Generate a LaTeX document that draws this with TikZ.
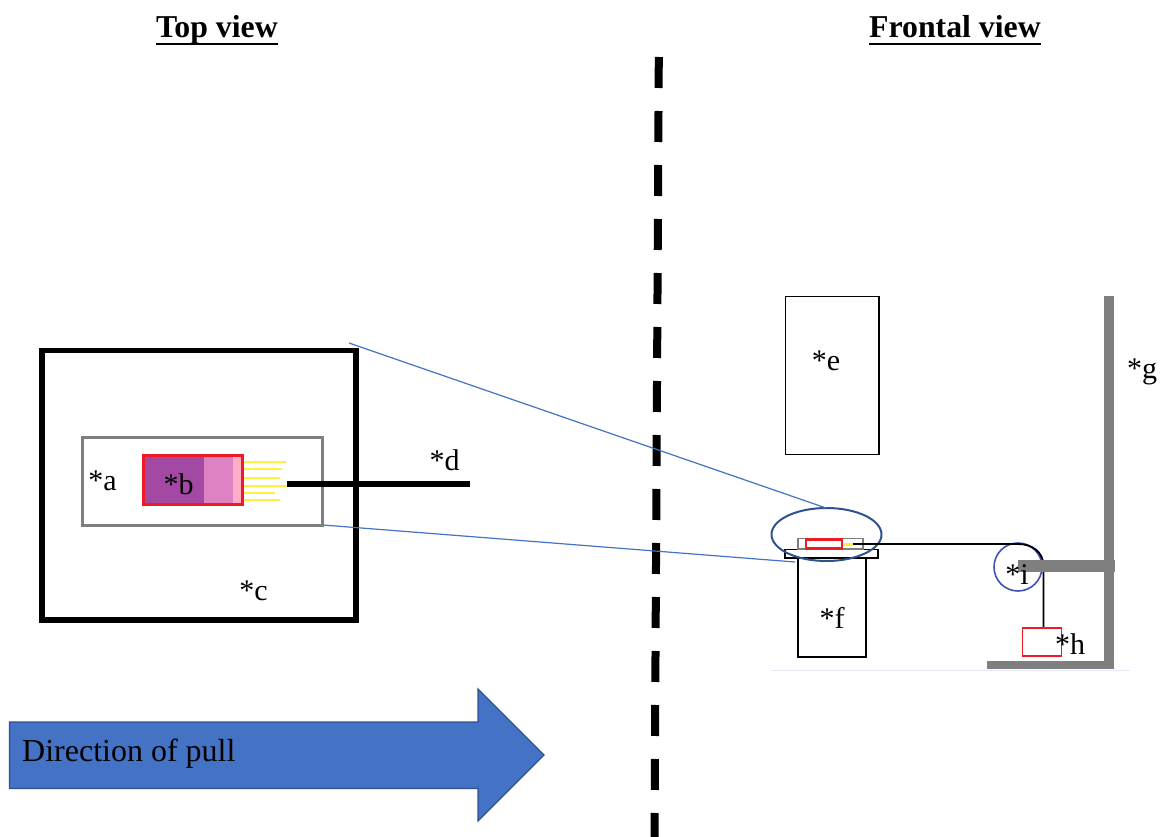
\documentclass[tikz,border=0pt]{standalone}
\usepackage{fontspec}
\setmainfont{Liberation Serif}
\usetikzlibrary{shapes.geometric}
\definecolor{boxgray}{RGB}{127,127,127}
\definecolor{zoomblue}{RGB}{68,114,196}
\definecolor{darkblue}{RGB}{47,82,143}
\definecolor{ringblue}{RGB}{64,80,190}
\definecolor{redb}{RGB}{237,28,36}
\definecolor{purpleA}{RGB}{163,73,164}
\definecolor{purpleB}{RGB}{222,130,196}
\definecolor{purpleC}{RGB}{255,174,201}
\definecolor{fibre}{RGB}{255,242,60}
\tikzset{
  lab/.style={inner sep=0pt,font=\fontsize{30}{32}\selectfont,text=black},
  head/.style={inner sep=0pt,anchor=base,font=\fontsize{31.8}{33}\selectfont\bfseries,text=black},
  thinbox/.style={draw=black,line width=1.8pt,fill=none},
  zoomline/.style={draw=zoomblue,line width=1.2pt},
  fibreline/.style={draw=fibre,line width=1.2pt},
  headrule/.style={line width=2.6pt},
}
\begin{document}
\begin{tikzpicture}[x=1pt,y=-1pt]
\useasboundingbox (0,0) rectangle (1165,837);
\fill[white] (0,0) rectangle (1165,837);
% headings
\node[head] (hl) at (217,38) {Top view};
\node[head] (hr) at (955,38) {Frontal view};
\draw[headrule] ([yshift=-6pt]hl.base west) -- ([yshift=-6pt]hl.base east);
\draw[headrule] ([yshift=-6pt]hr.base west) -- ([yshift=-6pt]hr.base east);
% divider
\coordinate (dt) at (658.8,57);
\coordinate (db) at (654.5,837);
\draw[line width=8pt,dash pattern=on 31pt off 23pt] (dt) -- (db);
% top view
\draw[line width=5.5pt] (42,350.5) rectangle (356,620);
\node[lab] (c) at (253.5,590.5) {*c};
\draw[draw=boxgray,line width=3.5pt] (82.5,437.5) rectangle (322.5,525.5);
\coordinate (ar) at (323,525);
\coordinate (cr) at (349,343);
\fill[purpleA] (143.5,455.5) rectangle (204,504.5);
\fill[purpleB] (204,455.5) rectangle (232.5,504.5);
\fill[purpleC] (232.5,455.5) rectangle (242.5,504.5);
\draw[draw=redb,line width=3pt] (143.5,455.5) rectangle (242.5,504.5);
\foreach \xe/\ye in {286/462,282/469,280/478,288/486,275/493,280/500}
  \draw[fibreline] (244,\ye) -- (\xe,\ye);
\node[lab] (a) at (102.5,481) {*a};
\node[lab] (b) at (178.5,484) {*b};
\coordinate (d1) at (287,484);
\coordinate (d2) at (470,484);
\draw[line width=6.5pt] (d1) -- (d2);
\node[lab] (d) at (444.5,460) {*d};
% arrow
\draw[draw=darkblue,line width=1.2pt,fill=zoomblue]
  (9.5,722) -- (478,722) -- (478,689) -- (544,755) -- (478,821) -- (478,788.5) -- (9.5,788.5) -- cycle;
\node[lab,anchor=base west,font=\fontsize{32}{34}\selectfont] (pt) at (22,761) {Direction of pull};
% frontal view
\draw[thinbox] (785.5,296.5) rectangle (879,454.5);
\node[lab] (e) at (826,361) {*e};
\draw[thinbox] (798,558.5) rectangle (866,657);
\node[lab] (f) at (832,618) {*f};
\draw[thinbox] (785,549.5) rectangle (878,558);
\draw[draw=boxgray,line width=1.6pt] (798,538.5) rectangle (863,549);
\draw[draw=redb,line width=2.2pt] (806,539.5) rectangle (842,548.5);
\draw[draw=fibre,line width=3pt] (842.5,544) -- (853,544);
\node[draw=darkblue,line width=2pt,shape=ellipse,minimum width=110pt,minimum height=53pt,inner sep=0pt] (oval) at (826.5,534.5) {};
\coordinate (zt) at (826,508);
\coordinate (zb) at (795,562);
\draw[zoomline] (cr) -- (zt);
\draw[zoomline] (ar) -- (zb);
\draw[line width=.6pt,draw=zoomblue!15] (771,670) -- (1130,670);
\node[draw=ringblue,line width=1.6pt,shape=circle,minimum size=48pt,inner sep=0pt] (ring) at (1018,567) {};
\coordinate (s0) at (853,544);
\coordinate (s1) at (1018,544);
\coordinate (s2) at (1043.5,566);
\coordinate (s3) at (1043.5,628);
\draw[line width=1.8pt] (s0) -- (s1) .. controls (1032,544) and (1043.5,552) .. (s2) -- (s3);
\fill[boxgray] (1104,296) rectangle (1114,669);
\fill[boxgray] (987,660.5) rectangle (1114,669);
\fill[boxgray] (1018,560) rectangle (1115,572);
\node[lab] (i) at (1017,575) {*i};
\draw[draw=redb,line width=1.8pt] (1022.5,628) rectangle (1061.5,656);
\node[lab] (h) at (1070,644) {*h};
\node[lab] (g) at (1142,372) {*g};
\end{tikzpicture}
\end{document}
